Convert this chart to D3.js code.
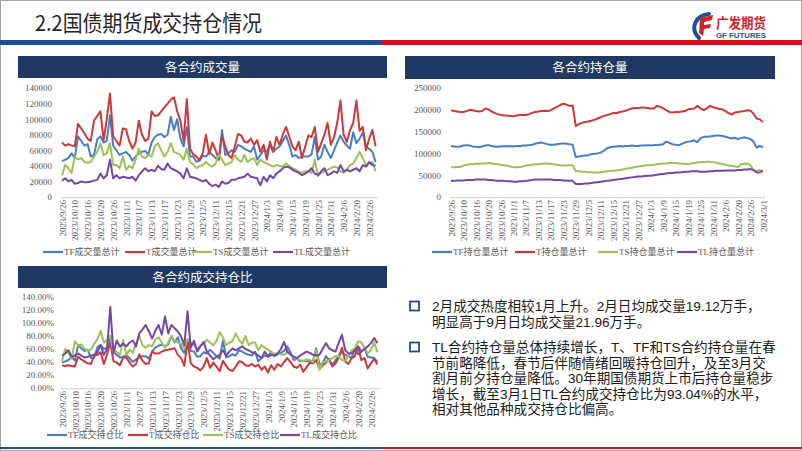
<!DOCTYPE html>
<html>
<head>
<meta charset="utf-8">
<script src="https://cdn.jsdelivr.net/npm/d3@7"></script>
<style>
  html, body { margin: 0; padding: 0; background: #fff; }
  svg { display: block; }
</style>
</head>
<body>
<svg id="slide" width="802" height="451"></svg>
<script>
// trading days 2023/9/26 .. 2024/3/1
const dates = [
  '2023/9/26','2023/9/27','2023/9/28',
  '2023/10/9','2023/10/10','2023/10/11','2023/10/12','2023/10/13','2023/10/16','2023/10/17','2023/10/18','2023/10/19','2023/10/20',
  '2023/10/23','2023/10/24','2023/10/25','2023/10/26','2023/10/27','2023/10/30','2023/10/31',
  '2023/11/1','2023/11/2','2023/11/3','2023/11/6','2023/11/7','2023/11/8','2023/11/9','2023/11/10','2023/11/13','2023/11/14',
  '2023/11/15','2023/11/16','2023/11/17','2023/11/20','2023/11/21','2023/11/22','2023/11/23','2023/11/24','2023/11/27','2023/11/28',
  '2023/11/29','2023/11/30','2023/12/1','2023/12/4','2023/12/5','2023/12/6','2023/12/7','2023/12/8','2023/12/11','2023/12/12',
  '2023/12/13','2023/12/14','2023/12/15','2023/12/18','2023/12/19','2023/12/20','2023/12/21','2023/12/22','2023/12/25','2023/12/26',
  '2023/12/27','2023/12/28','2023/12/29','2024/1/2','2024/1/3','2024/1/4','2024/1/5','2024/1/8','2024/1/9','2024/1/10',
  '2024/1/11','2024/1/12','2024/1/15','2024/1/16','2024/1/17','2024/1/18','2024/1/19','2024/1/22','2024/1/23','2024/1/24',
  '2024/1/25','2024/1/26','2024/1/29','2024/1/30','2024/1/31','2024/2/1','2024/2/2','2024/2/5','2024/2/6','2024/2/7',
  '2024/2/8','2024/2/19','2024/2/20','2024/2/21','2024/2/22','2024/2/23','2024/2/26','2024/2/27','2024/2/28','2024/2/29',
  '2024/3/1'
];

const xTickLabels = [
  '2023/9/26','2023/10/10','2023/10/16','2023/10/20','2023/10/26','2023/11/1','2023/11/7','2023/11/13','2023/11/17',
  '2023/11/23','2023/11/29','2023/12/5','2023/12/11','2023/12/15','2023/12/21','2023/12/27','2024/1/3','2024/1/9',
  '2024/1/15','2024/1/19','2024/1/25','2024/1/31','2024/2/6','2024/2/20','2024/2/26','2024/3/1'
];

// 各合约成交量 (手)
const volTF = [46000,48000,50000,56000,50000,78000,72000,66000,68000,52000, 54000,74000,78000,70000,72000,105000,66000,60000,54000,56000,
  58000,54000,47000,52000,56000,58000,59000,55000,70000,77000, 80000,81000,77000,80000,103000,86000,100000,75000,65000,90000,
  52000,52000,45000,47000,53000,52000,58000,54000,50000,48000, 86000,54000,56000,60000,58000,67000,65000,62000,60000,58000,
  65000,48000,54000,60000,58000,67000,58000,62000,65000,72000, 79000,67000,52000,54000,50000,52000,52000,52000,55000,77000,
  48000,52000,67000,58000,50000,60000,70000,79000,71000,66000, 62000,83000,69000,75000,83000,65000,62000,58000,45000];
const volT = [70000,66000,68000,66000,65000,94000,88000,82000,75000,72000, 98000,104000,110000,73000,100000,133000,78000,72000,66000,88000,
  87000,72000,62000,70000,98000,80000,72000,75000,110000,104000, 105000,110000,115000,120000,125000,128000,110000,98000,72000,126000,
  62000,55000,52000,47000,57000,80000,55000,70000,60000,48000, 79000,65000,54000,50000,65000,81000,79000,71000,70000,75000,
  67000,73000,58000,67000,48000,71000,58000,77000,67000,80000, 90000,78000,65000,60000,71000,50000,65000,79000,77000,90000,
  58000,69000,80000,95000,67000,77000,95000,124000,80000,71000, 86000,95000,124000,85000,90000,60000,75000,86000,65000];
const volTS = [28000,41000,37000,31000,52000,48000,50000,45000,44000,45000, 52000,58000,69000,54000,56000,69000,41000,41000,37000,52000,
  35000,40000,37000,48000,62000,52000,50000,54000,52000,65000, 69000,60000,52000,58000,69000,58000,56000,54000,48000,62000,
  45000,42000,37000,40000,41000,45000,41000,39000,43000,54000, 48000,41000,43000,45000,54000,48000,45000,54000,45000,48000,
  50000,41000,48000,45000,43000,41000,39000,41000,40000,39000, 43000,40000,37000,35000,33000,31000,33000,33000,31000,48000,
  27000,31000,33000,35000,37000,39000,38000,33000,31000,35000, 41000,43000,50000,58000,50000,41000,43000,45000,33000];
const volTL = [21000,24000,20000,22000,17000,18000,20000,19000,19000,20000, 21000,22000,30000,24000,28000,48000,24000,28000,24000,26000,
  25000,24000,26000,21000,28000,33000,37000,33000,35000,33000, 40000,36000,35000,43000,37000,35000,33000,30000,24000,37000,
  26000,25000,24000,22000,20000,22000,17000,14000,16000,13000, 20000,17000,18000,22000,22000,24000,25000,26000,30000,26000,
  25000,24000,15000,26000,20000,28000,24000,30000,33000,37000, 39000,38000,35000,33000,31000,28000,30000,33000,37000,30000,
  28000,33000,37000,28000,30000,33000,31000,41000,33000,35000, 33000,35000,37000,33000,41000,39000,45000,41000,40000];

// 各合约持仓量 (手)
const oiTF = [117000,116000,115000,116000,118000,119000,118000,116000,115000,114000, 116000,118000,119000,117000,116000,115000,116000,117000,116000,117000,
  116000,117000,117000,118000,118000,119000,120000,122000,124000,125000, 123000,121000,120000,120000,121000,122000,123000,122000,121000,120000,
  92000,93000,94000,95000,96000,98000,99000,100000,102000,106000, 112000,114000,115000,116000,117000,116000,117000,117000,118000,117000,
  117000,118000,118000,119000,118000,119000,119000,120000,121000,127000, 124000,121000,120000,119000,122000,125000,127000,128000,130000,126000,
  135000,138000,138000,139000,140000,141000,141000,140000,138000,136000, 134000,136000,133000,135000,137000,135000,133000,127000,113000,117000,
  114000];
const oiT = [199000,197000,196000,195000,195000,197000,200000,199000,197000,196000, 197000,203000,201000,196000,193000,190000,188000,187000,187000,186000,
  185000,187000,188000,188000,188000,190000,193000,195000,196000,197000, 198000,197000,199000,203000,207000,211000,214000,212000,209000,210000,
  163000,167000,170000,172000,173000,175000,177000,180000,183000,186000, 188000,190000,193000,192000,195000,196000,198000,201000,203000,204000,
  204000,205000,205000,204000,203000,203000,209000,207000,204000,199000, 195000,194000,195000,195000,196000,197000,201000,202000,203000,209000,
  203000,199000,203000,209000,206000,204000,202000,201000,197000,192000, 189000,194000,195000,196000,197000,199000,198000,191000,180000,178000,
  172000];
const oiTS = [68000,68000,69000,69000,72000,74000,75000,75000,76000,76000, 77000,77000,78000,77000,76000,75000,74000,73000,72000,70000,
  68000,68000,69000,70000,72000,73000,74000,75000,75000,76000, 77000,77000,76000,75000,74000,73000,72000,72000,73000,73000,
  59000,59000,58000,58000,57000,57000,56000,56000,57000,58000, 59000,60000,60000,61000,62000,63000,65000,66000,67000,69000,
  70000,71000,72000,73000,73000,74000,75000,76000,77000,77000, 78000,78000,78000,77000,77000,76000,75000,77000,78000,79000,
  80000,80000,81000,81000,80000,79000,77000,76000,74000,72000, 71000,70000,69000,75000,76000,77000,73000,62000,60000,62000,
  59000];
const oiTL = [37000,37000,38000,38000,38000,39000,39000,39000,40000,40000, 40000,40000,39000,39000,38000,37000,37000,37000,36000,36000,
  35000,35000,36000,36000,37000,38000,39000,40000,40000,40000, 40000,40000,40000,39000,39000,39000,38000,38000,37000,37000,
  30000,30000,30000,31000,31000,32000,33000,34000,35000,36000, 37000,38000,39000,40000,41000,42000,43000,44000,45000,46000,
  47000,47000,48000,49000,49000,50000,51000,52000,53000,54000, 55000,55000,56000,56000,57000,58000,58000,59000,59000,59000,
  58000,58000,58000,59000,59000,60000,60000,60000,61000,61000, 61000,61000,62000,62000,63000,63000,64000,62000,56000,57000,
  59000];

// 各合约成交持仓比 (%)
const ratioTF = [39,41,43,48,42,66,61,57,59,46, 47,63,66,60,62,80,57,51,47,48, 50,46,40,44,47,49,49,45,56,62,
  65,67,64,67,80,70,78,61,54,75, 57,56,48,49,55,53,59,54,49,45, 73,47,49,52,50,58,56,53,51,50,
  56,41,46,50,49,56,49,52,54,57, 64,55,43,45,41,42,41,41,42,61, 36,38,49,42,36,43,50,56,51,49,
  46,61,52,56,61,48,47,46,40];
const ratioT = [35,34,35,34,33,48,44,41,38,37, 50,51,55,37,52,70,41,39,35,47, 47,39,33,37,52,42,37,38,56,53,
  53,56,58,59,60,61,51,46,34,72, 38,33,31,27,33,46,31,39,33,26, 42,34,28,26,33,41,40,35,34,37,
  33,36,28,33,24,35,28,37,33,40, 46,40,33,31,36,25,32,39,38,43, 29,35,39,45,33,38,47,62,41,37,
  46,49,64,43,46,30,38,45,36];
const ratioTS = [41,60,54,45,72,65,67,60,58,59, 68,75,88,70,74,80,55,56,51,74, 51,59,54,69,80,66,62,66,64,75,
  78,70,62,70,80,72,70,68,60,75, 70,66,60,65,68,74,70,66,72,86, 78,66,70,72,84,74,68,80,66,70,
  70,58,66,62,59,55,52,54,52,51, 55,51,47,45,43,41,44,43,40,58, 28,39,41,43,46,49,49,43,42,49,
  58,61,72,70,62,53,59,70,55];
const ratioTL = [50,53,58,48,50,53,50,47,48,50, 51,55,66,51,60,125,53,73,64,68, 64,70,73,64,84,90,97,87,76,88,
  97,82,110,84,97,92,87,79,66,118, 62,73,56,64,71,56,50,44,48,51, 58,50,56,61,58,61,64,60,58,55,
  53,50,46,56,48,51,50,53,60,71, 56,52,48,46,50,53,56,54,51,50, 51,60,69,61,58,56,70,82,58,53,
  53,58,64,56,60,64,69,77,69];

const volTicks = [0, 20000, 40000, 60000, 80000, 100000, 120000, 140000];
const oiTicks = [0, 50000, 100000, 150000, 200000, 250000];
const ratioTicks = [0, 20, 40, 60, 80, 100, 120, 140];

const volNames = ['TF成交量总计', 'T成交量总计', 'TS成交量总计', 'TL成交量总计'];
const oiNames = ['TF持仓量总计', 'T持仓量总计', 'TS持仓量总计', 'TL持仓量总计'];
const ratioNames = ['TF成交持仓比', 'T成交持仓比', 'TS成交持仓比', 'TL成交持仓比'];

const colors = ['#4a7ec3', '#cb3a3a', '#9bc257', '#7548a6'];
const serif = "'Liberation Serif','Times New Roman','Noto Sans CJK SC',serif";
const sans = "'Noto Sans CJK SC','Microsoft YaHei',sans-serif";
const bodyFont = "'Liberation Sans','Noto Sans CJK SC',sans-serif";

const svg = d3.select('#slide');

// ---- slide frame + header ----
svg.append('rect').attr('x', 0.5).attr('y', 0.5).attr('width', 801).attr('height', 450)
  .attr('fill', '#fff').attr('stroke', '#a6a6a6');

svg.append('text').attr('x', 35).attr('y', 31)
  .attr('font-family', sans).attr('font-size', 21.5).attr('fill', '#262626')
  .attr('textLength', 227).attr('lengthAdjust', 'spacingAndGlyphs')
  .text('2.2国债期货成交持仓情况');

svg.append('rect').attr('x', 0).attr('y', 40).attr('width', 381).attr('height', 5).attr('fill', '#1f4e96');
svg.append('rect').attr('x', 381).attr('y', 40).attr('width', 421).attr('height', 5).attr('fill', '#c8171e');
svg.append('rect').attr('x', 0).attr('y', 447).attr('width', 381).attr('height', 2).attr('fill', '#1f4e96');
svg.append('rect').attr('x', 381).attr('y', 447).attr('width', 421).attr('height', 2).attr('fill', '#c8171e');

// logo
const logo = svg.append('g');
logo.append('path').attr('d', 'M709,14 C696,15 689,28 699,38').attr('fill', 'none')
  .attr('stroke', '#1e4f9c').attr('stroke-width', 4).attr('stroke-linecap', 'round');
logo.append('path').attr('d', 'M700,18 L713,15 L712,20 L704,22 L704,25 L711,24 L710,28 L704,29 L703,36 L699,33 Z')
  .attr('fill', '#d2232a');
logo.append('text').attr('x', 716).attr('y', 27.5).attr('font-family', bodyFont).attr('font-weight', 700)
  .attr('font-size', 14).attr('fill', '#d2232a')
  .attr('textLength', 50).attr('lengthAdjust', 'spacingAndGlyphs').text('广发期货');
logo.append('text').attr('x', 716).attr('y', 37.8).attr('font-family', "'Liberation Sans',Arial,sans-serif")
  .attr('font-weight', 700).attr('font-size', 7.4).attr('fill', '#1e4f9c')
  .attr('textLength', 50).attr('lengthAdjust', 'spacingAndGlyphs').text('GF FUTURES');

// ---- chart helper ----
function drawChart(o) {
  const g = svg.append('g');
  g.append('rect').attr('x', o.bar[0]).attr('y', o.bar[1]).attr('width', o.bar[2]).attr('height', o.bar[3])
    .attr('fill', '#1f3864');
  g.append('text').attr('x', o.bar[0] + o.bar[2] / 2).attr('y', o.bar[1] + o.bar[3] / 2 + 4.5)
    .attr('text-anchor', 'middle').attr('font-family', sans).attr('font-size', 12.5).attr('fill', '#fff')
    .text(o.title);

  const cats = dates.slice(0, o.series[0].length);
  const x = d3.scalePoint().domain(cats).range(o.xRange).padding(0.5);
  const y = d3.scaleLinear().domain(o.yDomain).range(o.yRange);
  const y0 = o.yRange[0];

  // y axis labels
  g.append('g').attr('transform', `translate(${o.yLabelX},0)`)
    .call(d3.axisLeft(y).tickValues(o.yTicks).tickSize(0).tickPadding(0).tickFormat(o.fmt))
    .call(a => a.select('.domain').remove())
    .call(a => a.selectAll('text').attr('fill', '#595959').attr('font-family', serif).attr('font-size', 9));

  // category axis with small ticks
  g.append('g').attr('transform', `translate(0,${y0})`)
    .call(d3.axisBottom(x).tickSize(2).tickSizeOuter(0).tickFormat(''))
    .call(a => a.selectAll('path,line').attr('stroke', '#d9d9d9'));

  // rotated date labels
  g.append('g').attr('transform', `translate(0,${y0})`)
    .call(d3.axisBottom(x).tickValues(xTickLabels.filter(d => cats.includes(d))).tickSize(0))
    .call(a => a.select('.domain').remove())
    .call(a => a.selectAll('text')
      .attr('transform', 'rotate(-90)').attr('x', -3).attr('y', 0).attr('dy', '0.35em')
      .attr('text-anchor', 'end').attr('fill', '#595959')
      .attr('font-family', serif).attr('font-size', 9));

  const line = d3.line().x((d, i) => x(cats[i])).y(d => y(d));
  g.selectAll('.series').data(o.series).enter().append('path')
    .attr('fill', 'none').attr('stroke', (d, i) => colors[i])
    .attr('stroke-width', 2).attr('stroke-linejoin', 'round')
    .attr('d', line);

  // legend
  const lg = g.selectAll('.lg').data(o.names).enter().append('g')
    .attr('transform', (d, i) => `translate(${o.legendX[i]},${o.legendY})`);
  lg.append('line').attr('x1', 0).attr('x2', 20).attr('stroke', (d, i) => colors[i]).attr('stroke-width', 2.2);
  lg.append('text').attr('x', 21).attr('y', 3.2).attr('fill', '#595959')
    .attr('font-family', serif).attr('font-size', 9).text(d => d);
}

drawChart({
  title: '各合约成交量', bar: [18, 56, 369, 22],
  series: [volTF, volT, volTS, volTL], names: volNames,
  xRange: [60.4, 377.2], yDomain: [0, 140000], yRange: [197, 88],
  yTicks: volTicks, fmt: d3.format('d'), yLabelX: 52,
  legendX: [43, 125, 192, 273], legendY: 252
});

drawChart({
  title: '各合约持仓量', bar: [405, 56, 370, 23],
  series: [oiTF, oiT, oiTS, oiTL], names: oiNames,
  xRange: [449.4, 764.5], yDomain: [0, 250000], yRange: [197, 88],
  yTicks: oiTicks, fmt: d3.format('d'), yLabelX: 441,
  legendX: [432, 515, 598, 677], legendY: 252
});

drawChart({
  title: '各合约成交持仓比', bar: [18, 266, 369, 22],
  series: [ratioTF, ratioT, ratioTS, ratioTL], names: ratioNames,
  xRange: [60.4, 379], yDomain: [0, 140], yRange: [388, 297],
  yTicks: ratioTicks, fmt: d => d.toFixed(2) + '%', yLabelX: 54,
  legendX: [47, 128, 203, 280], legendY: 435
});

// ---- commentary ----
const paragraphs = [
  { y: 306, lines: ['2月成交热度相较1月上升。2月日均成交量19.12万手，', '明显高于9月日均成交量21.96万手。'] },
  { y: 347, lines: ['TL合约持仓量总体持续增长，T、TF和TS合约持仓量在春', '节前略降低，春节后伴随情绪回暖持仓回升，及至3月交',
    '割月前夕持仓量降低。30年期国债期货上市后持仓量稳步', '增长，截至3月1日TL合约成交持仓比为93.04%的水平，', '相对其他品种成交持仓比偏高。'] }
];
const para = svg.selectAll('.para').data(paragraphs).enter().append('g');
para.append('rect').attr('x', 410).attr('y', d => d.y - 4.5).attr('width', 9).attr('height', 9)
  .attr('fill', 'none').attr('stroke', '#1f4e96').attr('stroke-width', 1.8);
para.selectAll('text').data(d => d.lines.map((t, i) => ({ t, y: d.y + i * 15.6 }))).enter().append('text')
  .attr('x', 432).attr('y', d => d.y + 5)
  .attr('font-family', bodyFont).attr('font-size', 13.6).attr('fill', '#1a1a1a')
  .text(d => d.t);
</script>
</body>
</html>
